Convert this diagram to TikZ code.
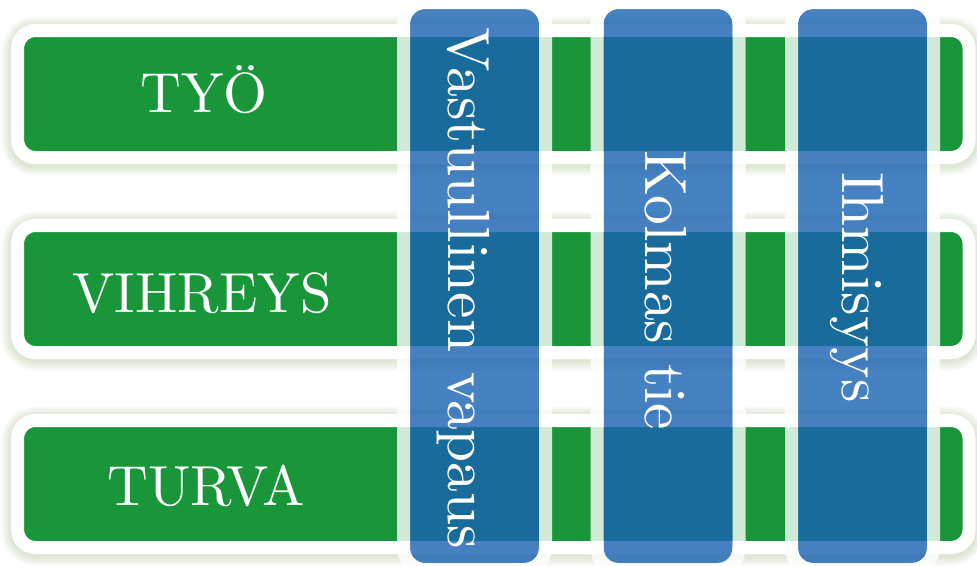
\documentclass[tikz,border=0pt]{standalone}
\usepackage{xcolor}
\usepackage{tikz}
\usetikzlibrary{backgrounds}
\definecolor{rowgreen}{RGB}{25,150,58}
\definecolor{barblue}{RGB}{24,97,178}
\definecolor{glowgreen}{RGB}{118,158,88}

\begin{document}
\begin{tikzpicture}[x=1pt, y=-1pt,
  rowbar/.style={fill=rowgreen, draw=white, line width=13pt, rounded corners=18pt,
    minimum width=951.5pt, minimum height=127pt, inner sep=0pt, outer sep=0pt},
  rowglow/.style={draw=glowgreen, draw opacity=0.03, rounded corners=18pt},
  rowtext/.style={text=white, anchor=base, font=\fontsize{10}{12}\selectfont,
    scale=5.65, transform shape},
  colbar/.style={fill=barblue, fill opacity=0.8, rounded corners=15pt,
    minimum width=129pt, minimum height=554pt, inner sep=0pt, outer sep=0pt},
  colhalo/.style={draw=white, draw opacity=0.8, line width=13pt, rounded corners=21.5pt},
  coltext/.style={text=white, anchor=base, rotate=-90, font=\fontsize{10}{12}\selectfont,
    scale=5.95, transform shape}]
  \useasboundingbox (0,0) rectangle (977,565);
  % green rows
  \node[rowbar] (tyo) at (493.3,94) {};
  \node[rowbar] (vihreys) at (493.3,289) {};
  \node[rowbar] (turva) at (493.3,484) {};
  \node[rowtext] (tyo-label) at (204,112) {TYÖ};
  \node[rowtext] (vihreys-label) at (202,312) {VIHREYS};
  \node[rowtext] (turva-label) at (206,505) {TURVA};
  \begin{scope}[on background layer]
    \foreach \r in {tyo,vihreys,turva}
      \foreach \g in {1,...,9}
        \draw[rowglow, line width={(13+2.2*\g)*1pt}]
          ([yshift=-2pt]\r.south west) rectangle ([yshift=-2pt]\r.north east);
  \end{scope}
  % blue columns
  \node[colbar] (vastuu) at (474.5,286) {};
  \node[colbar] (kolmas) at (668,286) {};
  \node[colbar] (ihmisyys) at (862.5,286) {};
  \foreach \c in {vastuu,kolmas,ihmisyys}
    \draw[colhalo] ([shift={(-6.5pt,-6.5pt)}]\c.south west) rectangle ([shift={(6.5pt,6.5pt)}]\c.north east);
  \node[coltext] (vastuu-label) at (448,288.5) {Vastuullinen vapaus};
  \node[coltext] (kolmas-label) at (645,290.5) {Kolmas tie};
  \node[coltext] (ihmisyys-label) at (842,287.5) {Ihmisyys};
\end{tikzpicture}
\end{document}
